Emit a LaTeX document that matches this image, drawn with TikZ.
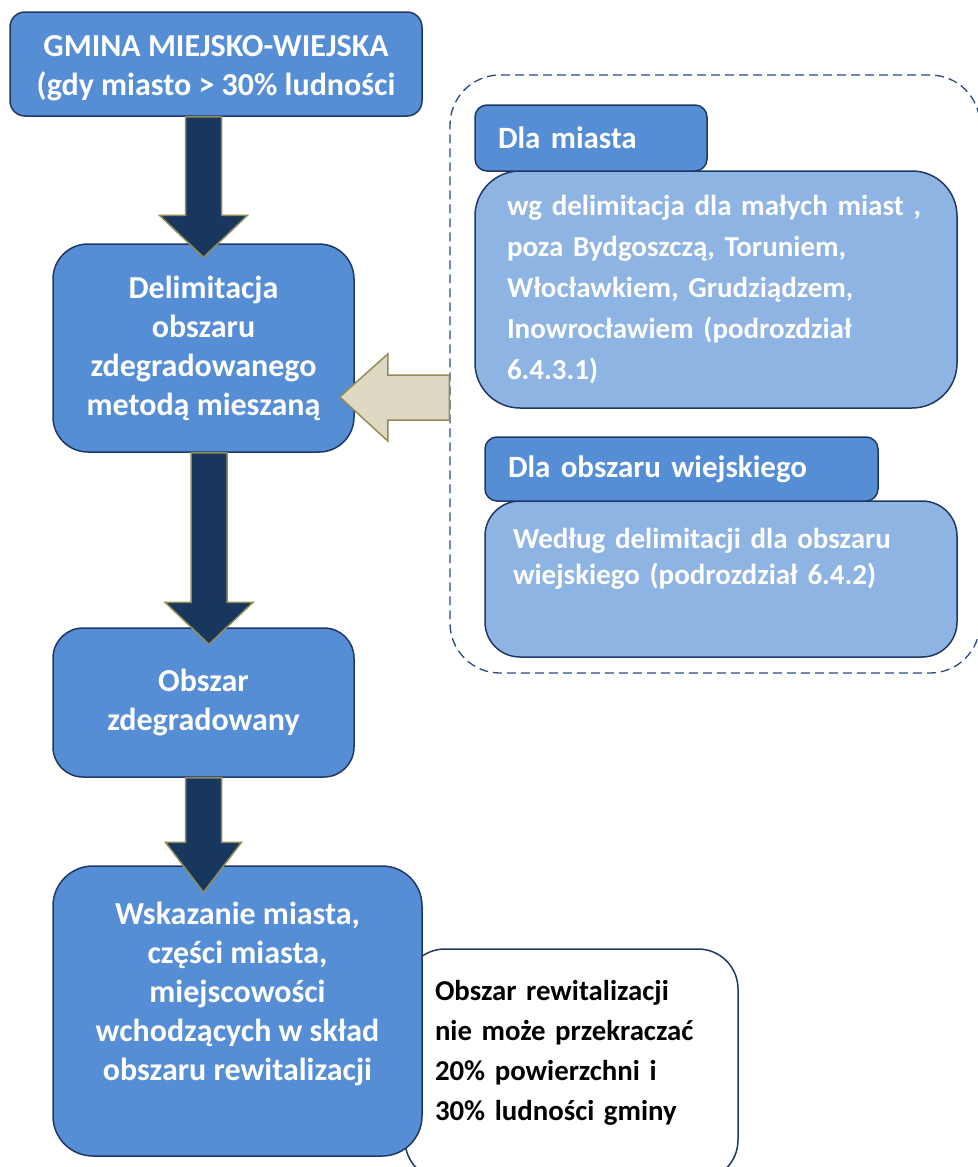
\documentclass[tikz,border=0pt]{standalone}
\usepackage{fontspec}
\setmainfont{Carlito}
\usetikzlibrary{calc}

\definecolor{boxblue}{HTML}{558ED5}
\definecolor{lightblue}{HTML}{8EB4E3}
\definecolor{edgeblue}{HTML}{203864}
\definecolor{navy}{HTML}{17375E}
\definecolor{olive}{HTML}{948A54}
\definecolor{sand}{HTML}{DDD9C3}
\definecolor{dashblue}{HTML}{264B86}

% block arrow pointing down: upper node, lower node, x shift, head base, tip, head half width
\newcommand{\blockdown}[6]{%
 \draw [downarrow] ($(#1.south -| #2.north)+(#3-18,0)$) -- ($(#2.north)+(#3-18,#4)$)
   -- ($(#2.north)+(#3-#6,#4)$) -- ($(#2.north)+(#3,#5)$) -- ($(#2.north)+(#3+#6,#4)$)
   -- ($(#2.north)+(#3+18,#4)$) -- ($(#1.south -| #2.north)+(#3+18,0)$) -- cycle;}

\begin{document}
\begin{tikzpicture}[x=1pt, y=-1pt,
 box/.style={draw=edgeblue, line width=1.5pt, fill=boxblue, text=white, inner sep=0pt,
   align=center, font=\bfseries\fontsize{32}{39}\selectfont},
 headbox/.style={box, align=left, font=\bfseries\fontsize{31}{39}\selectfont},
 subbox/.style={box, fill=lightblue, align=left, font=\bfseries\fontsize{29}{41}\selectfont},
 notebox/.style={box, fill=white, text=black, align=left, font=\bfseries\fontsize{28.8}{40}\selectfont},
 groupframe/.style={draw=dashblue, line width=1.3pt, dash pattern=on 9pt off 5pt, rounded corners=50pt},
 downarrow/.style={draw=olive, line width=1.5pt, fill=navy},
 inarrow/.style={draw=olive, line width=1.5pt, fill=sand}]
 \useasboundingbox (0,0) rectangle (977,1167);

 % right group
 \node [groupframe, minimum width=530pt, minimum height=598pt] (frame) at (715,374) {};
 \node [subbox, rounded corners=45pt, minimum width=482pt, minimum height=237pt, text width=418pt] (miastotxt) at (716,289.5)
   {\mbox{wg delimitacja dla małych miast ,}\\ poza Bydgoszczą, Toruniem,\\ Włocławkiem, Grudziądzem,\\ Inowrocławiem (podrozdział\\ 6.4.3.1)\\[-36pt] \mbox{}};
 \node [headbox, rounded corners=12pt, minimum width=232pt, minimum height=66pt, text width=186pt] (miasto) at (591,138) {Dla miasta};
 \node [subbox, rounded corners=35pt, minimum width=472pt, minimum height=156pt, text width=416pt,
   font=\bfseries\fontsize{29}{36}\selectfont] (wiestxt) at (721,579)
   {Według delimitacji dla obszaru\\ wiejskiego (podrozdział 6.4.2)\\[10pt] \mbox{}};
 \node [headbox, rounded corners=12pt, minimum width=393pt, minimum height=64pt, text width=347pt] (wies) at (681.5,469) {Dla obszaru wiejskiego};

 % main column
 \node [box, rounded corners=15pt, minimum width=412pt, minimum height=104pt] (gmina) at (216,64)
   {\rule{0pt}{30pt}GMINA MIEJSKO-WIEJSKA\\ (gdy miasto > 30\% ludności};
 \node [box, rounded corners=35pt, minimum width=301pt, minimum height=208pt] (delim) at (203.5,348)
   {Delimitacja\\ obszaru\\ zdegradowanego\\ metodą mieszaną};
 \node [box, rounded corners=30pt, minimum width=301pt, minimum height=149pt] (obszar) at (203.5,702.5)
   {Obszar\\ zdegradowany};
 \node [notebox, rounded corners=40pt, minimum width=333pt, minimum height=231pt, text width=273pt] (note) at (571.5,1064.5)
   {Obszar rewitalizacji\\ nie może przekraczać\\ 20\% powierzchni i\\ 30\% ludności gminy\\[-12pt] \mbox{}};
 \node [box, rounded corners=40pt, minimum width=369pt, minimum height=290pt] (wskaz) at (237.5,1011)
   {Wskazanie miasta,\\ części miasta,\\ miejscowości\\ wchodzących w skład\\ obszaru rewitalizacji\\};

 % arrows
 \blockdown{gmina}{delim}{0}{-28}{14}{44}
 \blockdown{delim}{obszar}{5.5}{-25}{17}{44}
 \blockdown{obszar}{wskaz}{-34}{-23}{27}{38}

 \coordinate (intip) at ($(delim.east)+(-15,49)$);
 \draw [inarrow] (intip) -- ++(48,-43) -- ++(0,21) -| ($(frame.west)+(0,46)$)
   -- ($(intip)+(48,23)$) -- ++(0,21) -- cycle;
\end{tikzpicture}
\end{document}
